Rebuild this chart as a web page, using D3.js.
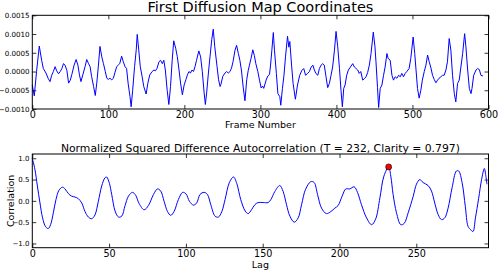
<!DOCTYPE html>
<html>
<head>
<meta charset="utf-8">
<title>Diffusion map autocorrelation</title>
<script src="https://cdn.jsdelivr.net/npm/d3@7"></script>
<style>
  body { margin: 0; background: #fff; }
  svg text { font-family: "DejaVu Sans", sans-serif; fill: #000; }
  .axis path { display: none; }
  .axis line { stroke: #000; stroke-width: 0.8; }
</style>
</head>
<body>
<script>
//////// data ////////
// top panel: frame number and first diffusion map coordinate (units of 1e-4)
var frames = [0,2.6,5.6,9.2,12.3,14.5,18,21,23.3,25.5,27.7,30,32,34.5,36.7,38.9,41,43,45.5,47.7,50,52,55,57.6,60,62,64,66.4,69.4,71.6,74,76,78,80.6,82.8,84.8,87,89,91.4,93.6,96,98,100,102,104.5,106.6,108.8,111,113,115,117.5,119.7,122,124,126,128.5,130,132,134.5,136.7,138,140,142,144.5,146.6,149.7,152,154.5,157.6,160,162,164,166.6,168.7,171,173,175,177.4,179.6,181.8,184,186,188.6,190.7,193,195,197.4,199.7,202,204,206,208,210,212,214,216,219,221.4,223.6,226,227.6,229.3,231.6,233.7,236,238,240,243,245,247,248,250.5,253.5,255.6,257.8,260,262,264,266.6,268.7,271,273,275,277.5,279.7,282,284,285.6,287.7,290,292,294,296.6,298.8,301,303,304.4,307.5,309.7,312,313.5,315,317,318.5,321,323,325.5,326.8,329,331,333,335.7,337.4,338.7,341,343,346,348.8,351.7,354.6,357,359.4,361.6,364.5,366.8,369,371,373.3,375.5,377.6,379.8,382,384,386.3,388.5,390.7,392.9,395,397.4,399.5,401.7,404,406,407.8,409.6,411.4,413.5,415.7,418.4,421.4,423.6,425.8,428,430,432,434.6,436.8,439,441,443.3,445.5,448.5,450.7,452,454,455.5,457.6,459.8,462,464,466.4,468,470.7,473,475,477.3,479.5,481.7,484,486,488.2,490.4,492.6,495.6,497.8,500.9,503,504.4,506.6,508.8,511,513,515.5,517.7,519.9,522,524,526.4,528.6,530.8,533,535,537.4,539.5,541.7,544,546,548.3,550.5,552.7,555,557,559.3,561.5,563.7,566,568.6,570.3,572.6,574.8,577,578.3,580.5,583.6,585.8,588,590,592.7];
var coordE4 = [-3.6,-6.5,0,6.8,3.0,0.8,-0.4,-1.9,-2.7,-1.0,0,1.3,0.2,-0.6,0,0.8,2.1,1.7,0.3,-3.1,-2.3,-0.8,1.7,3.2,1.7,-0.9,-2.7,-0.9,1.3,3.2,2.1,1.3,-1.3,-4.0,-6.4,-3.1,1.7,6.7,3.9,2.1,0,-1.8,-2.1,-1.8,-2.2,-1.8,-0.2,1.3,1.7,2.1,4.1,2.6,1.3,0.8,-3.1,-6.7,-9.4,-5.0,1.3,5.8,9.9,5.8,1.3,-1.4,-4.0,-6.0,-3.1,-0.9,0,0.4,0.2,0.8,2.6,3.0,2.1,3.0,0.4,-5.0,-8.8,-4.0,3.0,8.2,6.2,4.0,0.4,-3.1,-6.2,-3.6,-2.2,-0.9,0,-0.4,0.4,0,1.3,3.0,5.5,3.9,0,-5.7,-8.8,-5.7,-0.4,3.9,8.5,11.3,6.6,1.3,-2.2,-4.0,-3.5,-1.3,-0.4,0,-0.4,0,0.9,2.6,5.7,7.0,4.8,3.0,0.4,-4.4,-7.8,-2.2,0.3,1.7,3.5,5.8,4.3,2.1,0,-2.3,-4.4,-3.9,-4.5,-2.3,-1.2,-0.8,2.0,5.5,10.4,5.7,-0.5,-5.9,-6.7,-9.0,-4.5,-1.0,3.9,9.4,6.5,8.0,1.7,-3.2,-7.4,-3.6,-1.0,0.3,0.8,-1.0,-0.6,0,1.2,1.7,0.4,-0.6,-1.0,0.8,1.7,2.1,1.7,-1.4,-4.3,-3.2,-1.0,1.2,5.7,10.7,6.6,0.8,-5.0,-9.4,-4.5,-3.6,-1.0,0.4,1.2,2.1,1.2,0.8,0.4,-0.5,0,-2.3,-1.9,-1.4,-0.3,1.7,4.8,10.5,6.6,2.6,-4.2,-9.6,-4.5,-3.6,-1.0,1.2,4.8,3.5,3.0,-1.0,-2.3,-1.4,-1.8,-1.0,-1.4,-0.5,-1.4,-0.5,0,0.8,3.5,9.2,4.8,1.2,-4.5,-7.1,-5.0,-2.3,0,1.7,4.4,2.6,1.2,-1.0,-2.1,-3.0,-2.3,-1.8,-1.4,-1.0,-1.0,0.4,2.6,8.8,5.7,-1.0,-5.9,-8.1,-3.2,-2.3,1.2,4.8,10.1,6.6,0.4,-4.5,-5.9,-4.5,-1.0,0.4,0.8,0.5,-1.0,-1.2];

// bottom panel: lag and normalized squared difference autocorrelation
var lags = [0,1.7,3.3,5.0,6.7,8.7,10.4,11.9,13.7,15.4,17.4,19.6,21.3,23.5,25.6,27.8,30.0,32.2,34.3,36.5,38.7,40.8,43.0,45.2,47.3,48.4,50.2,51.7,53.9,56.1,58.2,60.4,62.6,65.2,67.3,69.5,72.8,75.6,78.9,81.5,83.6,85.8,88.0,90.1,92.3,95.1,97.9,100.1,102.3,104.9,107.0,109.2,111.8,114.0,116.2,119.0,121.2,123.4,125.5,128.3,131.0,133.1,135.7,138.6,140.5,142.7,144.9,147.0,150.3,153.5,155.3,157.9,161.1,163.3,165.5,167.7,170.5,173.1,175.3,177.9,181.3,183.5,185.7,188.3,191.5,194.4,197.0,199.1,201.7,204.1,206.7,209.5,211.7,214.3,217.6,220.9,223.5,226.3,228.9,232,233.4,234.9,237.1,239.9,242.1,244.7,248.0,250.1,252.3,254.4,257.7,259.9,262.0,264.2,266.4,268.5,270.7,273.3,276.1,277.6,279.8,281.9,283.7,285.4,286.9,288.5,290.6,292.5,294.3,295.2,296];
var corr = [1.0,0.74,0.35,-0.05,-0.40,-0.61,-0.65,-0.56,-0.28,0.03,0.25,0.32,0.28,0.17,0.11,0.09,0.05,-0.05,-0.25,-0.38,-0.42,-0.33,-0.01,0.35,0.54,0.56,0.41,0.15,-0.24,-0.38,-0.36,-0.11,0.11,0.20,0.13,-0.06,-0.21,-0.11,0.15,0.28,0.23,-0.01,-0.25,-0.34,-0.25,0.03,0.20,0.16,-0.01,-0.10,-0.05,0.15,0.20,0.15,-0.09,-0.36,-0.38,-0.25,0.03,0.43,0.56,0.41,0.03,-0.24,-0.30,-0.21,-0.09,-0.04,-0.04,-0.04,0.03,0.22,0.36,0.22,-0.09,-0.36,-0.50,-0.40,-0.09,0.27,0.45,0.43,0.15,-0.17,-0.30,-0.25,-0.17,-0.11,0.11,0.28,0.28,0.33,0.20,-0.09,-0.40,-0.56,-0.43,0.07,0.58,0.797,0.58,0.15,-0.28,-0.56,-0.53,-0.28,0.11,0.39,0.50,0.43,0.36,0.23,-0.05,-0.32,-0.44,-0.40,-0.17,0.31,0.70,0.70,0.43,-0.13,-0.60,-0.68,-0.72,-0.40,0.06,0.50,0.76,0.60,0.39];

var period = 232;
var clarity = 0.797;

var topYTicks = [-0.0010, -0.0005, 0.0000, 0.0005, 0.0010, 0.0015];
var topXTicks = [0, 100, 200, 300, 400, 500, 600];
var botYTicks = [-1.0, -0.5, 0.0, 0.5, 1.0];
var botXTicks = [0, 50, 100, 150, 200, 250];

//////// layout ////////
var W = 498, H = 272;
var left = 32.3, right = 488.5;

var svg = d3.select("body").append("svg")
    .attr("width", W)
    .attr("height", H);

// draws one panel with a boxed frame and inward ticks on all sides
function panel(top, bottom, xDomain, yDomain, xTicks, yTicks, xFmt, yFmt, yFont) {
  var x = d3.scaleLinear().domain(xDomain).range([left, right]);
  var y = d3.scaleLinear().domain(yDomain).range([bottom, top]);

  var g = svg.append("g");

  g.append("g").attr("class", "axis")
    .attr("transform", "translate(0," + bottom + ")")
    .call(d3.axisBottom(x).tickValues(xTicks).tickFormat(xFmt).tickSizeInner(-4).tickSizeOuter(0).tickPadding(2.5))
    .selectAll("text").style("font-size", "9.6px");

  g.append("g").attr("class", "axis")
    .attr("transform", "translate(0," + top + ")")
    .call(d3.axisTop(x).tickValues(xTicks).tickFormat("").tickSizeInner(-4).tickSizeOuter(0));

  g.append("g").attr("class", "axis")
    .attr("transform", "translate(" + left + ",0)")
    .call(d3.axisLeft(y).tickValues(yTicks).tickFormat(yFmt).tickSizeInner(-4).tickSizeOuter(0).tickPadding(2.8))
    .selectAll("text").style("font-size", yFont);

  g.append("g").attr("class", "axis")
    .attr("transform", "translate(" + right + ",0)")
    .call(d3.axisRight(y).tickValues(yTicks).tickFormat("").tickSizeInner(-4).tickSizeOuter(0));

  return {x: x, y: y, g: g};
}

//////// top panel ////////
var p1 = panel(15.3, 109, [0, 600], [-0.0010, 0.0015], topXTicks, topYTicks,
               d3.format("d"), d3.format(".4f"), "7.1px");

var topData = frames.map(function(f, i) { return [f, coordE4[i] * 1e-4]; });

p1.g.append("path")
    .datum(topData)
    .attr("fill", "none")
    .attr("stroke", "#0000ff")
    .attr("stroke-width", 1)
    .attr("stroke-linejoin", "round")
    .attr("d", d3.line()
        .x(function(d) { return p1.x(d[0]); })
        .y(function(d) { return p1.y(d[1]); }));

p1.g.append("rect")
    .attr("x", left).attr("y", 15.3)
    .attr("width", right - left).attr("height", 109 - 15.3)
    .attr("fill", "none").attr("stroke", "#000").attr("stroke-width", 1);

svg.append("text")
    .attr("x", (left + right) / 2).attr("y", 12)
    .attr("text-anchor", "middle")
    .style("font-size", "14.5px")
    .text("First Diffusion Map Coordinates");

svg.append("text")
    .attr("x", (left + right) / 2).attr("y", 128.3)
    .attr("text-anchor", "middle")
    .style("font-size", "9.5px")
    .text("Frame Number");

//////// bottom panel ////////
var p2 = panel(154, 247.7, [0, 297], [-1.1, 1.1], botXTicks, botYTicks,
               d3.format("d"), d3.format(".1f"), "7px");

var botData = lags.map(function(l, i) { return [l, corr[i]]; });

p2.g.append("path")
    .datum(botData)
    .attr("fill", "none")
    .attr("stroke", "#0000ff")
    .attr("stroke-width", 1)
    .attr("d", d3.line()
        .curve(d3.curveCatmullRom.alpha(0.5))
        .x(function(d) { return p2.x(d[0]); })
        .y(function(d) { return p2.y(d[1]); }));

p2.g.append("circle")
    .attr("cx", p2.x(period))
    .attr("cy", p2.y(clarity))
    .attr("r", 3)
    .attr("fill", "#ff0000")
    .attr("stroke", "#000")
    .attr("stroke-width", 0.6);

p2.g.append("rect")
    .attr("x", left).attr("y", 154)
    .attr("width", right - left).attr("height", 247.7 - 154)
    .attr("fill", "none").attr("stroke", "#000").attr("stroke-width", 1);

svg.append("text")
    .attr("x", (left + right) / 2).attr("y", 151.5)
    .attr("text-anchor", "middle")
    .style("font-size", "10.8px")
    .text("Normalized Squared Difference Autocorrelation (T = " + period + ", Clarity = " + clarity + ")");

svg.append("text")
    .attr("x", (left + right) / 2).attr("y", 268)
    .attr("text-anchor", "middle")
    .style("font-size", "9.5px")
    .text("Lag");

svg.append("text")
    .attr("transform", "translate(13.5," + ((154 + 247.7) / 2) + ") rotate(-90)")
    .attr("text-anchor", "middle")
    .style("font-size", "9.5px")
    .text("Correlation");
</script>
</body>
</html>
